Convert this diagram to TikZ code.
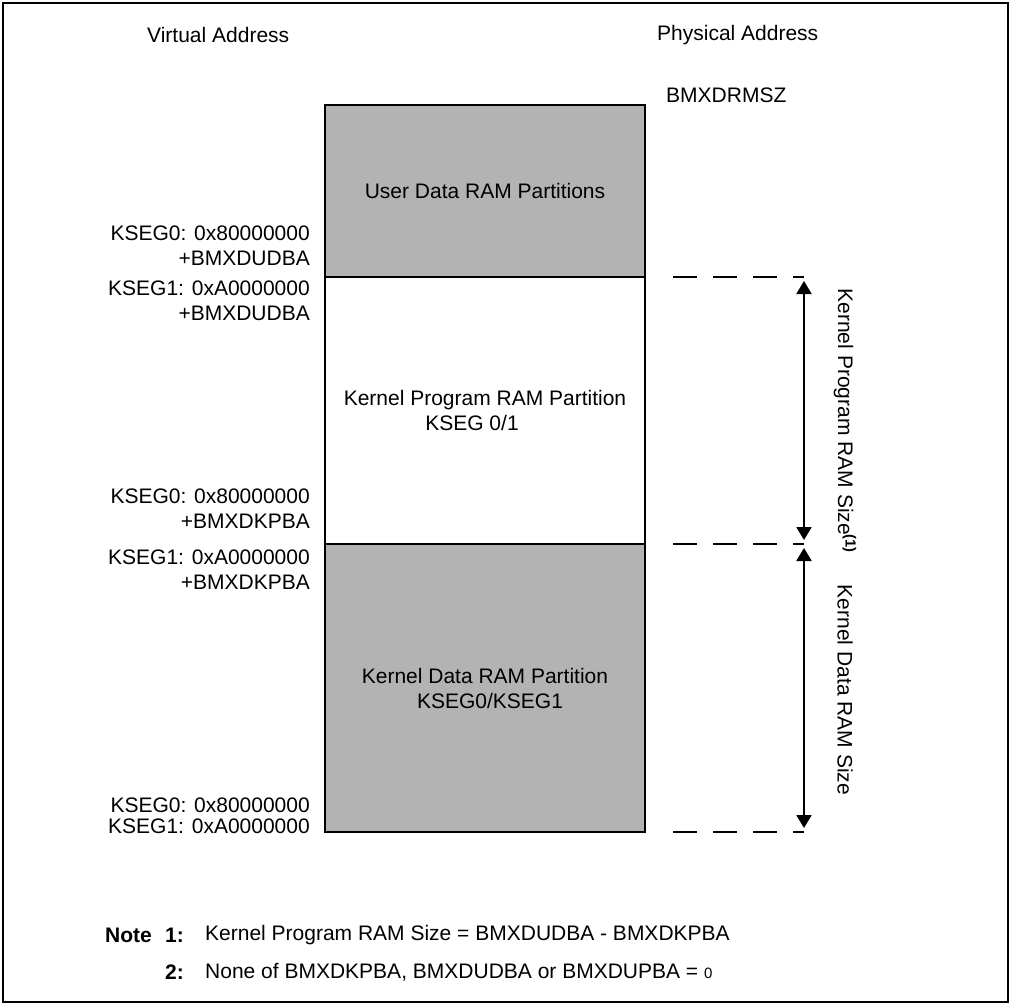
\documentclass[tikz,border=0pt]{standalone}
\usepackage{fontspec}
\setmainfont{Liberation Sans}
\usetikzlibrary{arrows.meta,positioning}
\definecolor{ramGray}{HTML}{B3B3B3}
\newcommand{\mapfont}{\fontsize{21}{25}\selectfont}
\tikzset{
  part/.style={
    draw, line width=2.5pt, minimum width=320pt, inner sep=0pt, outer sep=0pt,
    font=\mapfont, align=center
  },
  usedpart/.style={part, fill=ramGray},
  addr/.style={anchor=east, align=right, inner sep=0pt, font=\mapfont},
  hdr/.style={anchor=west, inner sep=0pt, font=\mapfont},
  sizelbl/.style={rotate=-90, inner sep=0pt, font=\mapfont},
  notetxt/.style={anchor=west, inner sep=0pt, font=\mapfont},
  notenum/.style={notetxt, font=\mapfont\bfseries},
  guide/.style={line width=2pt, dash pattern=on 24pt off 16pt, dash phase=24pt},
  sizeline/.style={
    {Triangle[length=13pt,width=15pt]}-{Triangle[length=13pt,width=15pt]},
    line width=2pt, shorten >=4pt, shorten <=4pt
  }
}

\begin{document}
\begin{tikzpicture}[x=1pt, y=-1pt]
  \useasboundingbox (0,0) rectangle (1010,1004);
  \draw[line width=2pt] (2.5,2.5) rectangle (1007.5,1001.5);

  % headings
  \node[hdr] (virt) at (147,35) {Virtual Address};
  \node[hdr] (phys) at (657,35) {Physical Address};
  \node[hdr] (drmsz) at (666,95) {BMXDRMSZ};

  % RAM partitions
  \node[usedpart, minimum height=172pt] (user) at (485,191) {User Data RAM Partitions};
  \node[part, minimum height=267pt, below=0pt of user] (kprog)
    {Kernel Program RAM Partition\\\hspace*{-26pt}KSEG 0/1};
  \node[usedpart, minimum height=288pt, below=0pt of kprog] (kdata)
    {Kernel Data RAM Partition\\\hspace*{10pt}KSEG0/KSEG1};

  % virtual addresses
  \node[addr] (udba0) at (310,245.5) {KSEG0: 0x80000000\\+BMXDUDBA};
  \node[addr] (udba1) at (310,300.5) {KSEG1: 0xA0000000\\+BMXDUDBA};
  \node[addr] (kpba0) at (310,509) {KSEG0: 0x80000000\\+BMXDKPBA};
  \node[addr] (kpba1) at (310,570) {KSEG1: 0xA0000000\\+BMXDKPBA};
  \node[addr, font=\fontsize{21}{21}\selectfont] (base) at (310,815.5) {KSEG0: 0x80000000\\KSEG1: 0xA0000000};

  % size markers
  \coordinate (utop) at (804,277);
  \coordinate (ktop) at (804,544);
  \coordinate (kbot) at (804,832);
  \draw[guide] ([xshift=12pt]user.south east) -- (utop);
  \draw[guide] ([xshift=12pt]kprog.south east) -- (ktop);
  \draw[guide] ([xshift=12pt]kdata.south east) -- (kbot);
  \draw[sizeline] (utop) -- (ktop);
  \draw[sizeline] (ktop) -- (kbot);
  \node[sizelbl] (kpsize) at (845,421) {Kernel Program RAM Size\textsuperscript{\textbf{(1)}}};
  \node[sizelbl] (kdsize) at (845,690) {Kernel Data RAM Size};

  % notes
  \node[notenum] (notehd) at (105,935) {Note};
  \node[notenum] (num1) at (165,935) {1:};
  \node[notetxt] (note1) at (205,935) {Kernel Program RAM Size = BMXDUDBA - BMXDKPBA};
  \node[notenum] (num2) at (165,972) {2:};
  \node[notetxt] (note2) at (205,972) {None of BMXDKPBA, BMXDUDBA or BMXDUPBA = {\fontsize{15}{15}\selectfont 0}};
\end{tikzpicture}
\end{document}
